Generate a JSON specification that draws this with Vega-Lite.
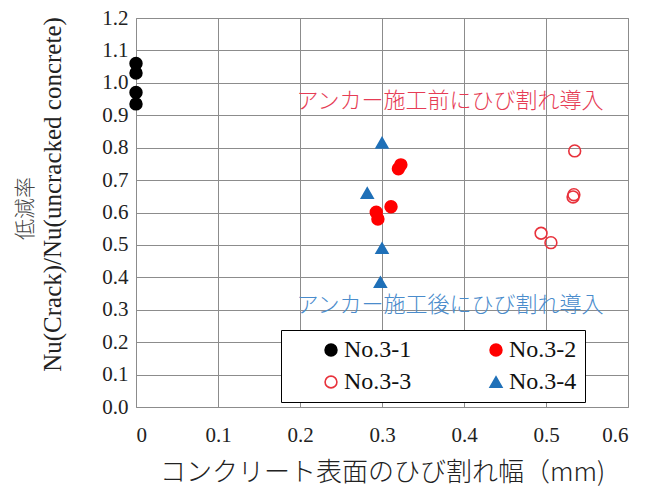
{
  "$schema": "https://vega.github.io/schema/vega-lite/v6.json",
  "autosize": "none",
  "width": 492,
  "height": 389,
  "padding": {"left": 136, "top": 18, "right": 20, "bottom": 80},
  "background": "white",
  "config": {
    "view": {"stroke": "#8c8c8c", "strokeWidth": 1},
    "font": "Times New Roman",
    "style": {"guide-label": {"font": "Times New Roman"}},
    "legend": {"labelFont": "Times New Roman"}
  },
  "datasets": {
    "pts": [
      {"series": "No.3-1", "w": 0, "r": 1.06},
      {"series": "No.3-1", "w": 0, "r": 1.03},
      {"series": "No.3-1", "w": 0, "r": 0.97},
      {"series": "No.3-1", "w": 0, "r": 0.935},
      {"series": "No.3-2", "w": 0.320, "r": 0.735},
      {"series": "No.3-2", "w": 0.323, "r": 0.747},
      {"series": "No.3-2", "w": 0.311, "r": 0.618},
      {"series": "No.3-2", "w": 0.293, "r": 0.601},
      {"series": "No.3-2", "w": 0.295, "r": 0.580},
      {"series": "No.3-3", "w": 0.535, "r": 0.790},
      {"series": "No.3-3", "w": 0.533, "r": 0.648},
      {"series": "No.3-3", "w": 0.534, "r": 0.655},
      {"series": "No.3-3", "w": 0.494, "r": 0.536},
      {"series": "No.3-3", "w": 0.506, "r": 0.507},
      {"series": "No.3-4", "w": 0.300, "r": 0.815},
      {"series": "No.3-4", "w": 0.282, "r": 0.660},
      {"series": "No.3-4", "w": 0.300, "r": 0.490},
      {"series": "No.3-4", "w": 0.298, "r": 0.385}
    ],
    "notes": [
      {"w": 0.383, "r": 0.944, "label": "アンカー施工前にひび割れ導入", "kind": "before"},
      {"w": 0.383, "r": 0.314, "label": "アンカー施工後にひび割れ導入", "kind": "after"}
    ]
  },
  "encoding": {
    "x": {
      "field": "w", "type": "quantitative",
      "scale": {"domain": [0, 0.6], "nice": false},
      "axis": {
        "values": [0, 0.1, 0.2, 0.3, 0.4, 0.5, 0.6],
        "labelExpr": "datum.value == 0 ? '0' : format(datum.value, '.1f')",
        "title": "コンクリート表面のひび割れ幅（mm)",
        "titleFont": "Noto Sans CJK JP",
        "titleFontWeight": 300,
        "titleFontSize": 26,
        "titleColor": "#222",
        "titlePadding": 14,
        "labelFont": "Times New Roman",
        "labelFontSize": 21,
        "labelColor": "#222",
        "labelPadding": 17,
        "labelOverlap": false,
        "ticks": false,
        "domain": false,
        "grid": true,
        "gridColor": "#8c8c8c",
        "gridOpacity": 1
      }
    }
  },
  "resolve": {"scale": {"y": "independent"}},
  "layer": [
    {
      "data": {"name": "notes"},
      "mark": {"type": "text", "font": "Noto Sans CJK JP", "fontSize": 22, "fontWeight": 300, "align": "center", "baseline": "middle"},
      "encoding": {
        "y": {
          "field": "r", "type": "quantitative",
          "scale": {"domain": [0, 1.2], "nice": false},
          "axis": {
            "orient": "left",
            "title": "低減率",
            "titleFont": "Noto Sans CJK JP",
            "titleFontWeight": 300,
            "titleFontSize": 21,
            "titleColor": "#444",
            "titleAngle": -90,
            "titleAlign": "center",
            "titleBaseline": "middle",
            "titleX": -111,
            "titleY": 190,
            "labels": false,
            "ticks": false,
            "domain": false,
            "grid": false
          }
        },
        "text": {"field": "label"},
        "color": {"field": "kind", "type": "nominal", "scale": {"domain": ["before", "after"], "range": ["#e63c55", "#4a8ccc"]}, "legend": null}
      }
    },
    {
      "data": {"name": "pts"},
      "mark": {"type": "point", "strokeWidth": 1.6, "opacity": 1, "size": 140},
      "encoding": {
        "y": {
          "field": "r", "type": "quantitative",
          "scale": {"domain": [0, 1.2], "nice": false},
          "axis": {
            "orient": "left",
            "values": [0, 0.1, 0.2, 0.3, 0.4, 0.5, 0.6, 0.7, 0.8, 0.9, 1.0, 1.1, 1.2],
            "format": ".1f",
            "title": "Nu(Crack)/Nu(uncracked concrete)",
            "titleFont": "Times New Roman",
            "titleFontWeight": "normal",
            "titleFontSize": 25,
            "titleColor": "#222",
            "titleBaseline": "middle",
            "titleAlign": "center",
            "titleAngle": -90,
            "titleX": -84,
            "titleY": 176,
            "labelFont": "Times New Roman",
            "labelFontSize": 21,
            "labelColor": "#222",
            "labelPadding": 8,
            "labelOverlap": false,
            "ticks": false,
            "domain": false,
            "grid": true,
            "gridColor": "#8c8c8c",
            "gridOpacity": 1
          }
        },
        "shape": {
          "field": "series", "type": "nominal", "title": null,
          "scale": {"domain": ["No.3-1", "No.3-2", "No.3-3", "No.3-4"], "range": ["circle", "circle", "circle", "triangle-up"]},
          "legend": {
            "orient": "none",
            "legendX": 145,
            "legendY": 312,
            "columns": 2,
            "direction": "horizontal",
            "strokeColor": "#000000",
            "fillColor": "white",
            "padding": 8,
            "symbolOffset": 30,
            "columnPadding": 42,
            "rowPadding": 8,
            "symbolSize": 140,
            "symbolStrokeWidth": 1.6,
            "labelFont": "Times New Roman",
            "labelFontSize": 24,
            "labelColor": "#111",
            "labelOffset": 1
          }
        },
        "fill": {
          "field": "series", "type": "nominal", "title": null,
          "scale": {"domain": ["No.3-1", "No.3-2", "No.3-3", "No.3-4"], "range": ["#000000", "#ff0000", "transparent", "#1f70b8"]}
        },
        "stroke": {
          "field": "series", "type": "nominal", "title": null,
          "scale": {"domain": ["No.3-1", "No.3-2", "No.3-3", "No.3-4"], "range": ["#000000", "#ff0000", "#e8323c", "#1f70b8"]}
        }
      }
    }
  ]
}
